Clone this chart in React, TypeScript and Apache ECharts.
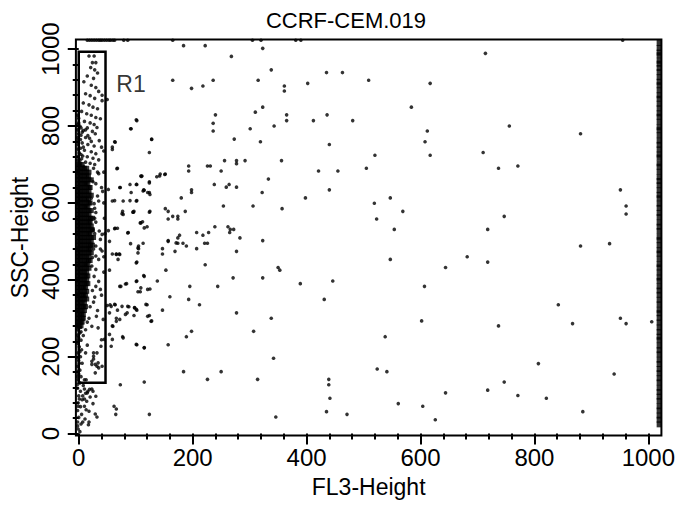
import React, { useEffect, useRef } from 'react';
import * as echarts from 'echarts';

const TITLE = 'CCRF-CEM.019';
const X_NAME = 'FL3-Height';
const Y_NAME = 'SSC-Height';
const MAJOR_TICKS = [0, 200, 400, 600, 800, 1000];
const MINOR_TICKS = [40, 80, 120, 160, 240, 280, 320, 360, 440, 480, 520, 560, 640, 680, 720, 760, 840, 880, 920, 960];
const GATE_NAME = 'R1';
const GATE_X = [0, 47];
const GATE_Y = [132, 993];
const GATE_LABEL_AT = [66, 908];

// dense core of the population: [SSC value, list of FL3 values]
const CORE_ROWS: [number, number[]][] = [
  [700, [-2, 2, 6]],
  [690, [-2, 2, 6, 10, 14]],
  [680, [-2, 2, 6, 10, 14, 18]],
  [670, [-2, 2, 6, 10, 14, 17]],
  [660, [-2, 2, 6, 10, 14, 18, 22]],
  [650, [-2, 2, 6, 10, 13, 16]],
  [640, [-2, 2, 6, 10, 14, 18, 20]],
  [630, [-2, 2, 6, 10, 14, 18]],
  [620, [-2, 2, 6, 10, 14, 18, 22]],
  [610, [-2, 2, 6, 10, 14, 17]],
  [600, [-2, 2, 6, 10, 14, 18, 20]],
  [590, [-2, 2, 6, 10, 13, 16]],
  [580, [-2, 2, 6, 10, 14, 18, 22]],
  [570, [-2, 2, 6, 10, 14, 18]],
  [560, [-2, 2, 6, 10, 14, 18, 21, 24]],
  [550, [-2, 2, 6, 10, 14, 18, 20]],
  [540, [-2, 2, 6, 10, 14, 18, 22]],
  [530, [-2, 2, 6, 10, 14, 18, 22, 24]],
  [520, [-2, 2, 6, 10, 14, 18, 20]],
  [510, [-2, 2, 6, 10, 14, 18, 22, 26]],
  [500, [-2, 2, 6, 10, 14, 18, 22]],
  [490, [-2, 2, 6, 10, 14, 18, 21, 24]],
  [480, [-2, 2, 6, 10, 14, 18, 20]],
  [470, [-2, 2, 6, 10, 14, 18, 22]],
  [460, [-2, 2, 6, 10, 14, 18]],
  [450, [-2, 2, 6, 10, 14, 17, 20]],
  [440, [-2, 2, 6, 10, 13, 16]],
  [430, [-2, 2, 6, 10, 14, 18]],
  [420, [-2, 2, 6, 10, 14]],
  [410, [-2, 2, 6, 10, 13, 16]],
  [400, [-2, 2, 6, 10, 14]],
  [390, [-2, 2, 6, 10, 13, 16]],
  [380, [-2, 2, 6, 9, 12]],
  [370, [-2, 2, 6, 10, 14]],
  [360, [-2, 2, 6, 9, 12]],
  [350, [-2, 2, 6, 10, 14]],
  [340, [-2, 2, 6, 10]],
  [330, [-2, 2, 6, 9, 12]],
  [320, [-2, 2, 6, 10]],
  [310, [-2, 2, 5, 8]],
  [300, [-2, 2, 6, 8]],
  [290, [-2, 1, 4, 6]],
  [280, [-2, 1, 4]],
];

// events inside / next to the R1 gate, outside the dense core
const GATE_EVENTS: [number, number][] = [
  [18, 982], [27, 982], [24, 965], [30, 965], [21, 952], [28, 946], [33, 938], [15, 930], [26, 924], [9, 915],
  [22, 906], [30, 900], [35, 890], [12, 884], [20, 879], [28, 872], [41, 880], [41, 866], [8, 860], [18, 855],
  [25, 849], [33, 845], [5, 838], [14, 832], [22, 828], [30, 822], [38, 819], [10, 812], [20, 808], [27, 804],
  [2, 800], [15, 795], [32, 796], [8, 788], [24, 786], [29, 780], [4, 776], [12, 770], [19, 768], [36, 762],
  [6, 756], [16, 752], [27, 748], [40, 745], [3, 742], [10, 737], [22, 733], [30, 728], [7, 722], [15, 720],
  [25, 716], [35, 712], [2, 710], [12, 706], [20, 703], [44, 735], [-2, 790], [0, 780], [3, 765], [-1, 752],
  [1, 730], [5, 715], [-2, 720], [8, 745], [0, 808], [-2, 770], [4, 795], [12, 790], [16, 775], [0, 820],
  [22, 760], [-1, 740], [1, 700], [-2, 711], [4, 726], [-1, 763], [6, 784], [-2, 803], [9, 694], [-2, 828],
  [33, 680], [35, 676], [25, 655], [30, 650], [33, 618], [35, 605], [28, 586], [30, 575], [28, 560], [30, 550],
  [25, 530], [36, 527], [41, 518], [38, 505], [30, 488], [38, 480], [41, 475], [24, 458], [30, 462], [35, 453],
  [23, 436], [30, 427], [27, 409], [35, 396], [30, 383], [38, 375], [40, 360], [28, 355], [24, 372], [44, 420],
  [45, 560], [42, 630], [26, 342], [20, 330], [33, 320], [31, 305], [23, 279], [34, 275], [43, 297], [18, 300],
  [15, 290], [44, 600], [44, 680], [26, 690], [28, 700], [40, 640], [22, 612], [27, 598], [46, 520], [44, 460],
  [26, 480], [28, 520],
  [12, 270], [40, 244], [45, 245], [12, 210], [32, 210], [26, 194], [23, 180], [29, 180], [35, 171], [29, 158],
  [10, 140], [13, 140], [26, 210], [26, 201], [34, 184], [32, 175], [23, 188], [41, 175], [39, 227], [8, 255],
  [15, 230],
  [23, 116], [10, 116], [16, 110], [7, 98], [1, 90], [10, 90], [-1, 71], [10, 71], [13, 62], [29, 51],
  [7, 30], [18, 30], [19, 115], [25, 110], [30, 97], [15, 106], [32, 43], [17, 23],
  [-2, 270], [2, 262], [0, 250], [4, 243], [-2, 235], [1, 226], [5, 218], [-1, 210], [3, 200], [0, 190],
  [6, 183], [-2, 175], [2, 165], [0, 155], [4, 148], [-1, 140], [2, 132], [8, 125], [-2, 118], [3, 110],
  [12, 105], [0, 98], [20, 95], [6, 88], [14, 84], [-1, 80], [25, 78], [3, 70], [-2, 60], [18, 58],
  [5, 50], [0, 42], [11, 38], [-2, 30], [4, 25], [-1, 12], [2, 5], [-2, 20],
  [-2, 256], [3, 276], [-1, 243], [-2, 198], [2, 213], [-1, 162], [-2, 148], [1, 183], [-2, 128], [4, 265],
];

// scattered events across the plot
const SCATTER_EVENTS: [number, number][] = [
  [184, 1009], [222, 1009], [323, 1002], [268, 981], [714, 989], [338, 946], [435, 939], [463, 939], [165, 919], [236, 919],
  [315, 919], [509, 919], [218, 904], [198, 898], [361, 904], [361, 891], [402, 911], [617, 911],
  [323, 849], [584, 849], [310, 836], [240, 829], [365, 829], [365, 814], [436, 829], [102, 814], [412, 814], [481, 814],
  [236, 807], [343, 800], [92, 793], [301, 793], [756, 800], [236, 787], [612, 787], [881, 780],
  [128, 766], [273, 766], [63, 759], [319, 759], [608, 759], [440, 752], [59, 745], [124, 731], [710, 731], [520, 724],
  [617, 724], [356, 710], [256, 710], [277, 710], [277, 702], [292, 710],
  [226, 696], [231, 696], [193, 696], [193, 683], [68, 690], [505, 690], [737, 690], [771, 696], [250, 683], [421, 683],
  [455, 683], [143, 675], [152, 675], [110, 669], [333, 662], [124, 655], [90, 648], [102, 648], [238, 648], [259, 641],
  [264, 648], [277, 641],
  [114, 634], [124, 627], [198, 634], [198, 627], [322, 627], [440, 634], [951, 634], [63, 606], [90, 606], [102, 606],
  [180, 613], [398, 613], [547, 613], [519, 599], [961, 592], [961, 571], [306, 592], [254, 592], [357, 585], [152, 585],
  [157, 578], [569, 578], [77, 578], [97, 578], [125, 578], [187, 578],
  [165, 565], [174, 565], [157, 558], [174, 558], [523, 558], [747, 565], [112, 551], [64, 534], [68, 534], [120, 538],
  [239, 538], [262, 538], [266, 531], [272, 531], [554, 531], [718, 531], [87, 523], [207, 523], [228, 523], [265, 523],
  [177, 516], [174, 509], [218, 516], [283, 509], [157, 502], [323, 502], [113, 495], [174, 495], [183, 495], [221, 495],
  [226, 495],
  [881, 488], [932, 494], [189, 488], [105, 488], [105, 481], [147, 481], [207, 481], [169, 474], [277, 474], [147, 467],
  [59, 467], [66, 467], [71, 467], [682, 460], [547, 453], [102, 446], [54, 425], [222, 439], [350, 432], [353, 425],
  [644, 432], [718, 446], [153, 425],
  [114, 411], [271, 405], [323, 405], [102, 397], [138, 397], [446, 397], [84, 390], [195, 383], [244, 383], [389, 390],
  [607, 383], [74, 383], [125, 376], [108, 369], [104, 369], [160, 356], [431, 349], [193, 349], [212, 335], [120, 335],
  [55, 335], [64, 335], [842, 335],
  [98, 328], [102, 321], [147, 321], [68, 321], [85, 314], [277, 314], [124, 307], [97, 307], [54, 314], [66, 300],
  [338, 300], [128, 293], [602, 293], [951, 300], [961, 286], [867, 286], [1006, 291], [737, 280], [59, 280],
  [307, 266], [198, 266], [189, 252], [77, 252], [538, 252], [59, 245], [102, 231], [115, 224], [157, 231], [342, 196],
  [807, 182], [184, 161], [250, 161], [524, 168], [541, 161], [940, 155], [226, 141], [314, 141], [439, 141], [439, 127],
  [115, 134], [747, 134], [718, 113], [73, 127], [644, 106], [771, 99], [821, 92], [441, 92], [561, 78], [604, 71],
  [62, 71], [66, 64], [65, 50], [124, 50], [435, 57], [471, 50], [885, 57], [346, 43], [626, 36],
  [52, 635], [59, 605], [78, 605], [72, 640], [92, 627], [101, 648], [109, 670], [115, 633], [121, 627], [78, 570],
  [95, 576], [52, 528], [63, 533], [86, 522], [109, 548], [115, 535], [54, 500], [91, 494], [66, 466], [72, 466],
  [69, 453], [104, 483], [104, 470], [101, 444], [115, 409], [101, 396], [72, 383], [82, 389], [109, 379], [121, 375],
  [50, 333], [57, 331], [76, 331], [88, 330], [63, 336], [86, 331], [98, 327], [101, 323], [118, 336], [121, 305],
  [127, 292], [66, 292], [72, 297], [82, 310], [60, 279], [78, 249], [54, 258], [57, 227], [101, 232], [115, 223],
  [50, 869], [101, 816], [91, 793], [128, 765], [64, 758], [59, 739], [67, 689], [142, 670], [137, 668], [151, 674],
  [111, 670], [124, 652], [73, 640], [113, 631], [125, 622], [101, 605], [124, 576], [76, 572], [96, 576], [108, 548],
  [157, 500], [171, 496],
];

// off-scale events piled at the top edge (SSC = 1023)
const TOP_EDGE_X = [15, 19, 23, 27, 31, 35, 38, 41, 45, 49, 53, 56, 60, 63, 79, 86, 165, 305, 320, 381, 390, 955];
const TOP_EDGE_Y = 1023;

// off-scale events piled at the right edge (FL3 = 1019)
const RIGHT_EDGE_X = 1019;
const RIGHT_EDGE_Y = [
  1016, 1003, 991, 984, 970, 962, 951, 940, 927, 915, 906, 893, 880, 871, 858, 846, 833, 824, 811, 797,
  789, 776, 762, 751, 739, 726, 718, 703, 694, 681, 667, 657, 646, 633, 621, 612, 598, 587, 574, 563,
  549, 538, 527, 512, 503, 490, 477, 468, 455, 441, 432, 419, 406, 397, 383, 372, 361, 348, 336, 322,
  313, 301, 289, 276, 264, 252, 243, 229, 217, 206, 192, 181, 168, 157, 144, 133, 119, 108, 96, 85,
  71, 60, 47, 36, 24,
];

const FONT = "'Liberation Sans', Arial, Helvetica, sans-serif";
const INK = '#000';

export default function App() {
  const ref = useRef<HTMLDivElement>(null);

  useEffect(() => {
    if (!ref.current) return;
    const chart = echarts.init(ref.current, null, { renderer: 'svg' });

    const coreData = CORE_ROWS.flatMap(([y, xs]) => xs.map((x) => [x, y]));
    const eventData = [
      ...GATE_EVENTS,
      ...SCATTER_EVENTS,
      ...TOP_EDGE_X.map((x) => [x, TOP_EDGE_Y]),
    ];
    const edgeData = RIGHT_EDGE_Y.map((y) => [RIGHT_EDGE_X, y]);

    const xRange = { min: -5, max: 1023 };
    const yRange = { min: -5, max: 1025 };
    const plain = (v: number) => String(v);

    chart.setOption({
      animation: false,
      backgroundColor: '#fff',
      textStyle: { fontFamily: FONT },
      grid: {
        left: 75.5,
        right: 11.2,
        top: 39.5,
        bottom: 71.5,
        show: true,
        borderColor: INK,
        borderWidth: 2,
        backgroundColor: 'transparent',
      },
      graphic: [
        {
          type: 'text',
          x: 346,
          y: 9,
          style: {
            text: TITLE,
            fontSize: 22,
            fontFamily: FONT,
            fill: INK,
            align: 'center',
            verticalAlign: 'top',
          },
        },
      ],
      xAxis: [
        {
          type: 'value',
          ...xRange,
          position: 'bottom',
          name: X_NAME,
          nameLocation: 'middle',
          nameGap: 40,
          nameTextStyle: { fontSize: 23, color: INK, fontFamily: FONT },
          axisLine: { show: false },
          axisTick: { show: true, customValues: MAJOR_TICKS, length: 11, lineStyle: { color: INK, width: 2 } },
          axisLabel: { show: true, customValues: MAJOR_TICKS, formatter: plain, fontSize: 24, color: INK, margin: 10, fontFamily: FONT },
          splitLine: { show: false },
        },
        {
          type: 'value',
          ...xRange,
          position: 'bottom',
          axisLine: { show: false },
          axisTick: { show: true, customValues: MINOR_TICKS, length: 6, lineStyle: { color: INK, width: 2 } },
          axisLabel: { show: false },
          splitLine: { show: false },
        },
      ],
      yAxis: [
        {
          type: 'value',
          ...yRange,
          position: 'left',
          name: Y_NAME,
          nameLocation: 'middle',
          nameGap: 37,
          nameTextStyle: { fontSize: 23, color: INK, fontFamily: FONT },
          axisLine: { show: false },
          axisTick: { show: true, customValues: MAJOR_TICKS, length: 11, lineStyle: { color: INK, width: 2 } },
          axisLabel: { show: true, customValues: MAJOR_TICKS, formatter: plain, rotate: 90, fontSize: 24, color: INK, margin: 13, fontFamily: FONT },
          splitLine: { show: false },
        },
        {
          type: 'value',
          ...yRange,
          position: 'left',
          axisLine: { show: false },
          axisTick: { show: true, customValues: MINOR_TICKS, length: 6, lineStyle: { color: INK, width: 2 } },
          axisLabel: { show: false },
          splitLine: { show: false },
        },
      ],
      series: [
        {
          type: 'scatter',
          name: 'core',
          xAxisIndex: 0,
          yAxisIndex: 0,
          data: coreData,
          symbol: 'rect',
          symbolSize: 5,
          itemStyle: { color: INK },
          silent: true,
          clip: false,
        },
        {
          type: 'scatter',
          name: 'events',
          xAxisIndex: 0,
          yAxisIndex: 0,
          data: eventData,
          symbol: 'circle',
          symbolSize: 3.6,
          itemStyle: { color: INK },
          silent: true,
          clip: false,
          markArea: {
            silent: true,
            itemStyle: { color: 'rgba(0,0,0,0)', borderColor: INK, borderWidth: 2.5 },
            label: { show: false },
            data: [[{ xAxis: GATE_X[0], yAxis: GATE_Y[0] }, { xAxis: GATE_X[1], yAxis: GATE_Y[1] }]],
          },
        },
        {
          type: 'scatter',
          name: 'rightEdge',
          xAxisIndex: 0,
          yAxisIndex: 0,
          data: edgeData,
          symbol: 'rect',
          symbolSize: [5, 6],
          itemStyle: { color: INK },
          silent: true,
          clip: false,
        },
        {
          type: 'scatter',
          name: 'gateLabel',
          xAxisIndex: 0,
          yAxisIndex: 0,
          data: [GATE_LABEL_AT],
          symbolSize: 0,
          silent: true,
          label: {
            show: true,
            position: 'right',
            distance: 0,
            formatter: GATE_NAME,
            fontSize: 23,
            color: INK,
            fontFamily: FONT,
          },
        },
      ],
    });

    return () => chart.dispose();
  }, []);

  return <div ref={ref} style={{ position: 'absolute', left: 0, top: 0, width: 678, height: 507 }} />;
}
